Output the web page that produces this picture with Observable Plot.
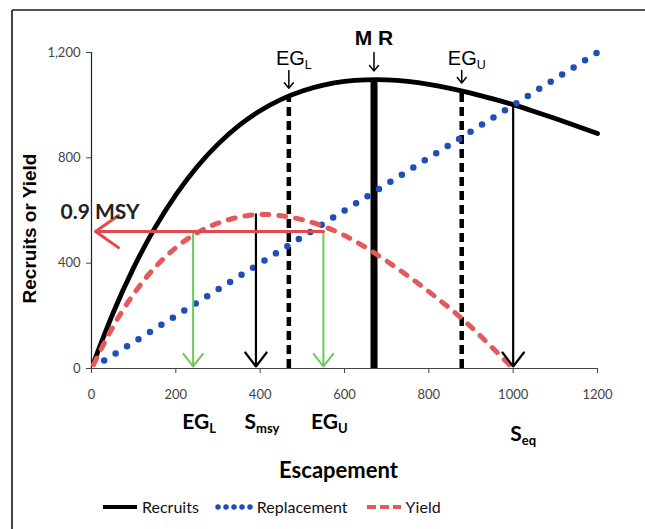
<!DOCTYPE html>
<html>
<head>
<meta charset="utf-8">
<script src="https://cdn.jsdelivr.net/npm/d3@7"></script>
<script src="https://cdn.jsdelivr.net/npm/@observablehq/plot@0.6"></script>
<style>
  html, body { margin: 0; padding: 0; background: #fff; overflow: hidden; }
  #wrap { position: relative; width: 645px; height: 529px; overflow: hidden; }
  #frame { position: absolute; left: 0; top: 0; }
  #chart { position: absolute; left: 0; top: 0; }
  #legend { position: absolute; left: 100px; top: 497px; display: flex; align-items: center;
            font: 16px Lato, sans-serif; color: #111; }
  #legend .item { display: flex; align-items: center; margin-right: 16px; }
  #legend svg { margin-right: 2px; }
</style>
</head>
<body>
<div id="wrap">
  <svg id="frame" width="645" height="529">
    <line x1="12" y1="10" x2="645" y2="10" stroke="#555" stroke-width="2"></line>
    <line x1="12" y1="10" x2="12" y2="529" stroke="#444" stroke-width="2"></line>
  </svg>
  <div id="chart"></div>
  <div id="legend"></div>
</div>
<script>
// ---- Data ----
const recruitS = [5, 50, 100, 150, 200, 250, 300, 350, 400, 450, 500, 550, 600, 650, 700, 750, 800, 850, 900, 950, 1000, 1050, 1100, 1150, 1200];
const recruitR = [22, 206, 383, 533, 659, 765, 852, 923, 979, 1022, 1054, 1076, 1090, 1096, 1096, 1090, 1079, 1064, 1046, 1025, 1002, 976, 949, 921, 892];

const replacementS = [30, 1200];
const replacementR = [30, 1200];

const yieldS = [5, 50, 100, 150, 200, 250, 300, 350, 400, 450, 500, 550, 600, 650, 700, 750, 800, 850, 900, 950, 1000];
const yieldY = [15, 156, 283, 383, 459, 515, 552, 575, 585, 580, 565, 540, 505, 460, 408, 352, 292, 228, 158, 80, 0];

// reference points (escapement, recruits/yield)
const egLower = 468, egLowerRecruits = 1034;
const maxRecruits = 670, maxRecruitsValue = 1096;
const egUpper = 878, egUpperRecruits = 1054;
const sMsy = 390, msy = 585;
const sEq = 1000, sEqRecruits = 1000;
const msy90 = 520;
const yieldGoalLow = 241, yieldGoalHigh = 550;

const xTicks = [0, 200, 400, 600, 800, 1000, 1200];
const yTicks = [0, 400, 800, 1200];

const seriesNames = ["Recruits", "Replacement", "Yield"];
const seriesColors = ["#000000", "#1d4fb5", "#e25a5c"];

// ---- tables ----
const recruits = recruitS.map((s, i) => ({s, v: recruitR[i]}));
const replacement = replacementS.map((s, i) => ({s, v: replacementR[i]}));
const yieldTbl = yieldS.map((s, i) => ({s, v: yieldY[i]}));
const goalRules = [{x: egLower, top: egLowerRecruits}, {x: egUpper, top: egUpperRecruits}];
const blackArrows = [{x: sMsy, top: msy}, {x: sEq, top: sEqRecruits}];
const greenArrows = [{x: yieldGoalLow, top: msy90}, {x: yieldGoalHigh, top: msy90}];

const numFont = "Lato, sans-serif";
const arial = "Liberation Sans, Arial, sans-serif";

const svg = Plot.plot({
  width: 645,
  height: 490,
  marginLeft: 91,
  marginRight: 48,
  marginTop: 52,
  marginBottom: 122,
  x: {domain: [0, 1200]},
  y: {domain: [0, 1200]},
  style: {fontFamily: numFont, fontSize: "13px", background: "transparent", overflow: "visible"},
  marks: [
    Plot.axisX({ticks: xTicks, tickSize: 5, tickPadding: 16, tickFormat: d => String(d), label: null, fill: "#444", stroke: "#444", fontSize: 13}),
    Plot.axisY({ticks: yTicks, tickSize: 5, tickPadding: 6, tickFormat: d3.format(","), label: null, fill: "#444", stroke: "#444", fontSize: 13}),
    Plot.ruleY([0], {stroke: "#444", strokeWidth: 1.2}),
    Plot.ruleX([0], {y1: 0, y2: 1200, stroke: "#222", strokeWidth: 1.2}),

    // vertical reference lines
    Plot.ruleX(goalRules, {x: "x", y1: 0, y2: "top", stroke: "#000", strokeWidth: 4.5, strokeDasharray: "9,5"}),
    Plot.ruleX([{x: maxRecruits, top: maxRecruitsValue}], {x: "x", y1: 0, y2: "top", stroke: "#000", strokeWidth: 7}),

    // curves
    Plot.line(recruits, {x: "s", y: "v", stroke: seriesColors[0], strokeWidth: 4.8, curve: "natural"}),
    Plot.line(replacement, {x: "s", y: "v", stroke: seriesColors[1], strokeWidth: 6.5, strokeDasharray: "0,13.5", strokeLinecap: "round"}),
    Plot.line(yieldTbl, {x: "s", y: "v", stroke: seriesColors[2], strokeWidth: 5, strokeDasharray: "7,10", strokeLinecap: "round", curve: "natural"}),

    // arrows
    Plot.arrow(blackArrows, {x1: "x", x2: "x", y1: "top", y2: 0, stroke: "#000", strokeWidth: 2.2, headLength: 12, headAngle: 75, insetEnd: 2}),
    Plot.arrow(greenArrows, {x1: "x", x2: "x", y1: "top", y2: 0, stroke: "#6cc95a", strokeWidth: 2, headLength: 12, headAngle: 75, insetEnd: 2}),
    Plot.arrow([{x: yieldGoalHigh, y: msy90}], {x1: "x", x2: 0, y1: "y", y2: "y", stroke: "#e04a4e", strokeWidth: 3, headLength: 14, headAngle: 70, insetEnd: 4}),

    // small pointers above recruits curve
    Plot.arrow([{x: maxRecruits, y: maxRecruitsValue}], {x1: "x", x2: "x", y1: 1200, y2: "y", stroke: "#000", strokeWidth: 1.5, headLength: 7, headAngle: 80, insetEnd: 9}),
    Plot.arrow(goalRules, {x1: "x", x2: "x", y1: 1200, y2: "top", stroke: "#000", strokeWidth: 1.5, headLength: 7, headAngle: 80, insetStart: 18, insetEnd: 8}),

    // annotation text
    Plot.text(["M R"], {text: d => d, x: maxRecruits, frameAnchor: "top", lineAnchor: "middle", textAnchor: "middle", dy: -14, fontSize: 21, fontWeight: "bold", fontFamily: arial, fill: "#000"}),
    Plot.text([{x: egLower, t: "EG_L"}, {x: egUpper, t: "EG_U"}], {x: "x", text: "t", frameAnchor: "top", lineAnchor: "middle", textAnchor: "middle", dx: 5, dy: 6, fontSize: 20, fontFamily: arial, fill: "#000"}),
    Plot.text(["0.9 MSY"], {text: d => d, x: 0, y: msy90, textAnchor: "start", lineAnchor: "middle", dx: -31, dy: -19, fontSize: 21, fontWeight: "bold", fill: "#222"}),

    Plot.text([{x: yieldGoalLow, t: "EG_L"}, {x: sMsy, t: "S_msy"}, {x: yieldGoalHigh, t: "EG_U"}], {x: "x", text: "t", frameAnchor: "bottom", lineAnchor: "middle", textAnchor: "middle", dx: 6, dy: 54, fontSize: 21, fontWeight: "bold", fill: "#000"}),
    Plot.text([{x: sEq, t: "S_eq"}], {x: "x", text: "t", frameAnchor: "bottom", lineAnchor: "middle", textAnchor: "middle", dx: 10, dy: 66, fontSize: 21, fontWeight: "bold", fill: "#000"}),

    Plot.text(["Escapement"], {text: d => d, frameAnchor: "bottom", lineAnchor: "middle", textAnchor: "middle", dx: -6, dy: 102, fontSize: 22, fontWeight: "bold", fill: "#000"}),
    Plot.text(["Recruits or Yield"], {text: d => d, frameAnchor: "left", lineAnchor: "middle", textAnchor: "middle", dx: -62, dy: 18, rotate: -90, fontSize: 19, fontWeight: "bold", fontFamily: arial, fill: "#000"})
  ]
});

// subscripts: "A_b" -> A with subscript b
d3.select(svg).selectAll("text").each(function() {
  if (this.childElementCount) return;
  const t = this.textContent;
  const i = t.indexOf("_");
  if (i < 0) return;
  this.textContent = "";
  const s = d3.select(this);
  s.append("tspan").text(t.slice(0, i));
  s.append("tspan").attr("font-size", "62%").attr("dy", "0.3em").text(t.slice(i + 1));
});

document.getElementById("chart").appendChild(svg);

// legend
const legend = d3.select("#legend");
seriesNames.forEach((name, i) => {
  const item = legend.append("div").attr("class", "item");
  const sw = item.append("svg").attr("width", 40).attr("height", 10);
  const line = sw.append("line").attr("x1", 3).attr("x2", 37).attr("y1", 5).attr("y2", 5)
    .attr("stroke", seriesColors[i]);
  if (i === 0) line.attr("stroke-width", 4);
  if (i === 1) line.attr("stroke-width", 5.5).attr("stroke-dasharray", "0,8").attr("stroke-linecap", "round");
  if (i === 2) line.attr("stroke-width", 4).attr("stroke-dasharray", "9,4");
  item.append("span").text(name);
});
</script>
</body>
</html>
